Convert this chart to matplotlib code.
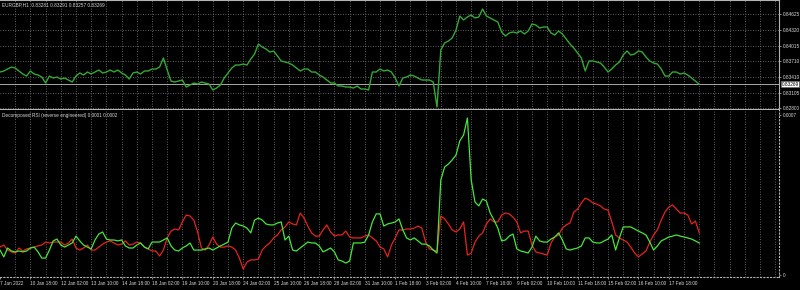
import numpy as np
import matplotlib.pyplot as plt
from matplotlib.transforms import blended_transform_factory

# -------- DATA (one value every 4 H1 bars) --------
bar_step = 4

price = [
    0.83505, 0.83525, 0.83563, 0.83602, 0.83583, 0.83525, 0.83466, 0.83427, 0.83525, 0.83466,
    0.83447, 0.83408, 0.83292, 0.83427, 0.83389, 0.83408, 0.83369, 0.83389, 0.83350, 0.83311,
    0.83427, 0.83486, 0.83447, 0.83505, 0.83466, 0.83505, 0.83544, 0.83486, 0.83505, 0.83544,
    0.83505, 0.83544, 0.83486, 0.83447, 0.83369, 0.83486, 0.83505, 0.83466, 0.83525, 0.83525,
    0.83563, 0.83563, 0.83602, 0.83777, 0.83544, 0.83330, 0.83311, 0.83330, 0.83350, 0.83214,
    0.83253, 0.83292, 0.83272, 0.83311, 0.83292, 0.83272, 0.83156, 0.83194, 0.83253, 0.83389,
    0.83486, 0.83583, 0.83641, 0.83641, 0.83660, 0.83641, 0.83758, 0.83855, 0.84049, 0.83990,
    0.83952, 0.83893, 0.83913, 0.83816, 0.83719, 0.83699, 0.83680, 0.83641, 0.83583, 0.83525,
    0.83563, 0.83563, 0.83505, 0.83505, 0.83447, 0.83408, 0.83350, 0.83292, 0.83292, 0.83233,
    0.83233, 0.83214, 0.83214, 0.83194, 0.83233, 0.83175, 0.83175, 0.83156, 0.83505, 0.83505,
    0.83563, 0.83525, 0.83544, 0.83505, 0.83389, 0.83233, 0.83389, 0.83408, 0.83447, 0.83427,
    0.83389, 0.83350, 0.83350, 0.83350, 0.83311, 0.82826, 0.83932, 0.84068, 0.84107, 0.84165,
    0.84321, 0.84592, 0.84515, 0.84573, 0.84612, 0.84554, 0.84573, 0.84728, 0.84592, 0.84554,
    0.84515, 0.84476, 0.84282, 0.84204, 0.84262, 0.84282, 0.84262, 0.84301, 0.84243, 0.84301,
    0.84437, 0.84418, 0.84359, 0.84379, 0.84379, 0.84262, 0.84223, 0.84301, 0.84243, 0.84146,
    0.84049, 0.83971, 0.83874, 0.83777, 0.83525, 0.83719, 0.83719, 0.83699, 0.83680, 0.83602,
    0.83505, 0.83563, 0.83641, 0.83699, 0.83835, 0.83913, 0.83835, 0.83855, 0.83913, 0.83893,
    0.83796, 0.83719, 0.83680, 0.83660, 0.83563, 0.83427, 0.83427, 0.83505, 0.83505, 0.83466,
    0.83486, 0.83447, 0.83389, 0.83330, 0.83269,
]

# Decomposed RSI buffers, in units of 1e-4
rsi_green = [
    1.09, 0.79, 1.18, 1.05, 1.01, 1.05, 1.01, 1.05, 1.18, 1.22,
    1.01, 0.74, 0.74, 1.09, 1.49, 1.57, 1.31, 1.22, 1.31, 1.40,
    1.70, 1.49, 1.31, 1.22, 1.14, 1.53, 1.79, 1.88, 1.57, 1.53,
    1.53, 1.49, 1.53, 1.27, 1.18, 1.18, 1.31, 1.40, 1.22, 1.14,
    1.44, 1.44, 1.44, 1.53, 1.62, 1.27, 1.09, 1.05, 1.18, 1.27,
    1.40, 1.09, 1.09, 1.09, 1.14, 1.18, 1.09, 1.18, 1.27, 1.35,
    1.44, 2.05, 2.27, 2.19, 2.14, 2.05, 1.84, 2.40, 2.49, 2.40,
    2.23, 2.19, 2.19, 2.27, 2.32, 1.53, 1.70, 1.09, 1.05, 1.18,
    1.31, 1.44, 1.40, 1.40, 1.27, 1.01, 1.09, 1.18, 1.01, 0.66,
    0.61, 0.52, 0.61, 1.40, 1.40, 1.40, 1.44, 1.75, 2.32, 2.67,
    2.67, 2.14, 2.23, 2.27, 2.32, 2.45, 1.97, 1.62, 1.53, 1.62,
    1.49, 1.35, 1.35, 1.27, 1.09, 0.96, 4.15, 4.72, 4.85, 5.03,
    5.24, 5.86, 6.12, 6.86, 4.15, 3.19, 3.02, 3.32, 3.23, 2.71,
    2.40, 2.05, 1.49, 1.53, 1.70, 1.79, 1.14, 1.05, 1.01, 0.96,
    1.22, 1.70, 1.49, 1.44, 1.44, 1.57, 1.66, 1.84, 1.53, 1.14,
    1.09, 1.14, 1.18, 1.27, 1.62, 1.62, 1.44, 1.40, 1.40, 1.49,
    1.57, 1.75, 1.09, 1.62, 2.10, 2.10, 2.10, 2.01, 1.92, 1.84,
    1.75, 1.44, 1.09, 1.27, 1.49, 1.57, 1.66, 1.70, 1.75, 1.70,
    1.66, 1.62, 1.57, 1.49, 1.40,
]

rsi_red = [
    1.22, 1.31, 1.09, 1.01, 0.96, 1.18, 1.05, 1.14, 1.18, 1.22,
    1.27, 1.31, 1.44, 1.40, 1.44, 1.44, 1.44, 1.31, 1.40, 1.57,
    1.18, 1.09, 1.18, 1.31, 1.09, 1.09, 1.22, 1.35, 1.44, 1.49,
    1.40, 1.31, 1.35, 1.49, 1.31, 1.35, 1.44, 1.40, 1.22, 1.14,
    1.05, 1.05, 0.83, 1.09, 1.62, 1.92, 2.01, 1.97, 2.32, 2.62,
    2.58, 2.40, 1.88, 1.18, 1.09, 1.31, 1.66, 1.35, 1.22, 1.22,
    1.27, 1.22, 1.09, 0.74, 0.26, 0.57, 0.66, 0.66, 0.70, 1.09,
    1.27, 1.40, 1.62, 1.75, 1.97, 2.10, 2.32, 2.23, 2.19, 2.71,
    2.49, 2.14, 1.84, 1.70, 1.70, 1.97, 2.19, 1.88, 1.70, 1.75,
    1.75, 1.92, 1.66, 1.62, 1.62, 1.62, 1.70, 1.75, 1.62, 1.49,
    1.22, 1.14, 0.79, 1.31, 1.62, 1.97, 1.97, 2.01, 2.01, 2.05,
    2.14, 2.05, 1.44, 1.14, 1.09, 1.05, 2.58, 2.45, 2.23, 1.97,
    1.88, 2.01, 2.32, 0.87, 0.96, 1.44, 1.70, 1.84, 2.23, 2.45,
    2.32, 2.32, 2.62, 2.71, 2.67, 2.53, 2.32, 1.84, 1.92, 1.92,
    1.31, 1.01, 0.96, 0.92, 0.87, 1.40, 1.66, 1.75, 2.05, 2.19,
    2.27, 2.75, 2.88, 3.15, 3.36, 3.28, 3.15, 3.10, 3.02, 2.88,
    2.84, 2.32, 1.75, 1.62, 1.53, 1.44, 1.22, 0.96, 0.79, 0.92,
    1.05, 1.44, 1.75, 1.97, 2.40, 2.75, 2.97, 3.06, 2.88, 2.71,
    2.71, 2.62, 2.23, 2.36, 1.84,
]

price_levels = [0.84625, 0.84320, 0.84015, 0.83710, 0.83410, 0.83105, 0.82800]
price_labels = ["0.84625", "0.84320", "0.84015", "0.83710", "0.83410", "0.83105", "0.82800"]
last_price = 0.83269

date_labels = ["7 Jan 2022", "10 Jan 18:00", "12 Jan 02:00", "13 Jan 10:00", "14 Jan 18:00",
               "18 Jan 02:00", "19 Jan 10:00", "20 Jan 18:00", "24 Jan 02:00", "25 Jan 10:00",
               "26 Jan 18:00", "28 Jan 02:00", "31 Jan 10:00", "1 Feb 18:00", "3 Feb 02:00",
               "4 Feb 10:00", "7 Feb 18:00", "9 Feb 02:00", "10 Feb 10:00", "11 Feb 18:00",
               "15 Feb 02:00", "16 Feb 10:00", "17 Feb 18:00"]
label_step = 32   # H1 bars between date labels
grid_step = 16
n_bars_view = 820

bars = np.arange(len(price)) * bar_step
rsi_g = np.array(rsi_green) * 1e-4
rsi_r = np.array(rsi_red) * 1e-4

# -------- STYLE --------
txt = "#d8d8d8"
grid_c = "#808080"
frame_c = "#b4b4b4"
fs = 3.4
plt.rcParams["font.family"] = ["Liberation Sans", "DejaVu Sans"]

fig = plt.figure(figsize=(8, 2.9), dpi=100, facecolor="black")
ax1 = fig.add_axes([0, 1 - 109 / 290, 779 / 800, 109 / 290])
ax2 = fig.add_axes([0, 1 - 277 / 290, 779 / 800, 167 / 290])

for ax in (ax1, ax2):
    ax.set_facecolor("black")
    ax.set_xlim(0, n_bars_view)
    for x in range(grid_step, n_bars_view, grid_step):
        ax.axvline(x, color=grid_c, lw=0.6, ls=(0, (1, 2)), zorder=0)
    ax.spines["left"].set_visible(False)
    for s in ("top", "bottom", "right"):
        ax.spines[s].set_color(frame_c)
        ax.spines[s].set_linewidth(0.8)
    ax.yaxis.tick_right()
    ax.tick_params(axis="y", colors=frame_c, labelcolor=txt, labelsize=fs, length=1.5, width=0.5, pad=1)
ax2.spines["top"].set_visible(False)

# -------- PRICE PANEL --------
ax1.set_ylim(0.82787, 0.84903)
for lv in price_levels:
    ax1.axhline(lv, color=grid_c, lw=0.6, ls=(0, (1, 2)), zorder=0)
ax1.axhline(last_price, color="#a8a8a8", lw=0.7, zorder=1)
ax1.plot(bars, price, color="#34a834", lw=1.0, zorder=2)
ax1.set_yticks(price_levels)
ax1.set_yticklabels(price_labels)
ax1.set_xticks([])
trans = blended_transform_factory(ax1.transAxes, ax1.transData)
ax1.text(1.0035, last_price, f"{last_price:.5f}", transform=trans, ha="left", va="center",
         fontsize=fs, color="black", clip_on=False,
         bbox=dict(facecolor="white", edgecolor="#606060", lw=0.4, pad=0.4))
ax1.text(0.003, 0.975, "EURGBP,H1  0.83281 0.83291 0.83257 0.83269", transform=ax1.transAxes,
         ha="left", va="top", fontsize=fs, color=txt)

# -------- DECOMPOSED RSI PANEL --------
ax2.set_ylim(-0.0000087, 0.000721)
ax2.plot(bars, rsi_r, color="#e8231e", lw=0.9, zorder=2)
ax2.plot(bars, rsi_g, color="#44e83a", lw=0.9, zorder=3)
ax2.set_yticks([0.0007, 0])
ax2.set_yticklabels(["0.0007", "0"])
ax2.spines["bottom"].set_linestyle((0, (1, 2)))
ax2.spines["right"].set_linestyle((0, (1, 2)))
ax2.set_xticks(np.arange(len(date_labels)) * label_step)
ax2.set_xticklabels(date_labels, ha="left")
ax2.tick_params(axis="x", colors=frame_c, labelcolor=txt, labelsize=fs, length=1.5, width=0.5, pad=1.5)
ax2.text(0.003, 0.985, "Decomposed RSI (reverse engineered) 0.0001 0.0002", transform=ax2.transAxes,
         ha="left", va="top", fontsize=fs, color=txt)

fig.savefig("out.png", dpi=100, facecolor="black")
